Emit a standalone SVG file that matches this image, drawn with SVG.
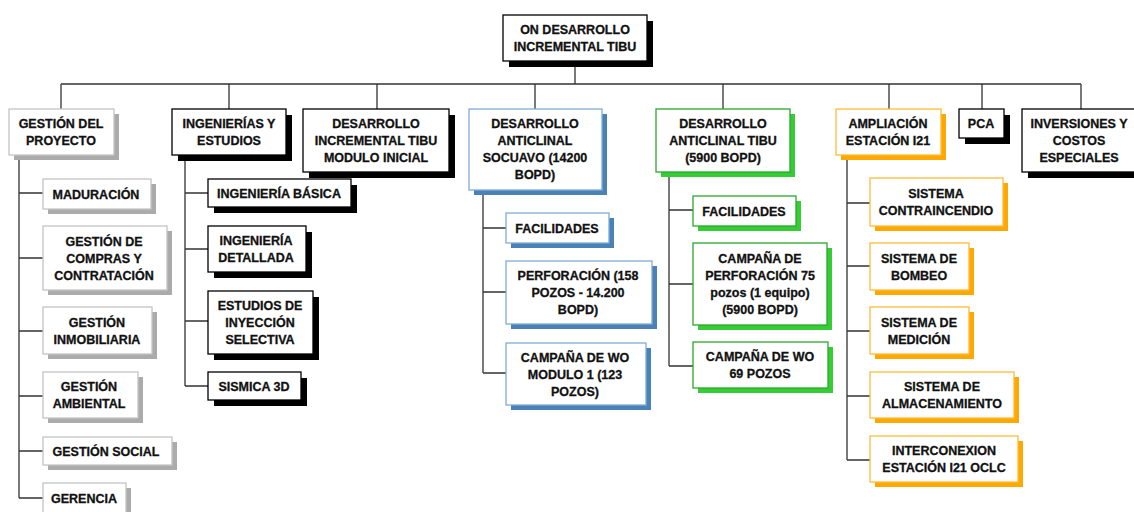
<svg xmlns="http://www.w3.org/2000/svg" width="1134" height="512" viewBox="0 0 1134 512">
<style>
.bg{fill:#ffffff}
.box{fill:#ffffff;stroke-width:1.3}
.k .box{stroke:#000000}.k .sh{fill:#000000}
.g .box{stroke:#c4c4c4}.g .sh{fill:#ababab}
.b .box{stroke:#7fabd8}.b .sh{fill:#4a82b8}
.gr .box{stroke:#2aa82a}.gr .sh{fill:#36cc36}
.o .box{stroke:#ffbb3a}.o .sh{fill:#ffa800}
text{font-family:"Liberation Sans",Arial,sans-serif;font-weight:bold;font-size:12.5px;fill:#111111;stroke:#111111;stroke-width:0.3;text-anchor:middle}
#connectors path{fill:none;stroke:#333333;stroke-width:1.3}
</style>
<rect class="bg" x="0" y="0" width="1134" height="512"/>
<g id="connectors">
<path d="M575 61V84M61 84H1081M61 84V109M229 84V109M377 84V109M535 84V109M723 84V109M889 84V109M982 84V109M1081 84V109"/>
<path d="M19 155V498M19 193H43M19 258H43M19 331H43M19 396H43M19 451H43M19 498H43"/>
<path d="M185 155V386M185 193H208M185 249H208M185 321H208M185 386H208"/>
<path d="M483 190V373M483 228H506M483 292H506M483 373H506"/>
<path d="M669 172V366M669 210H693M669 284H693M669 366H693"/>
<path d="M847 155V460M847 203H870M847 266H870M847 331H870M847 396H870M847 460H870"/>
</g>
<g id="root" class="k"><rect class="sh" x="509" y="21" width="144" height="46"/><rect class="box" x="503" y="15" width="144" height="46"/><text x="575" y="34">ON DESARROLLO</text><text x="575" y="51">INCREMENTAL TIBU</text></g>

<g id="gestion" class="g"><rect class="sh" x="14" y="114" width="105" height="46"/><rect class="box" x="9" y="109" width="105" height="46"/><text x="61" y="128">GESTIÓN DEL</text><text x="61" y="145">PROYECTO</text></g>
<g id="ingenierias" class="k"><rect class="sh" x="178" y="115" width="114" height="46"/><rect class="box" x="172" y="109" width="114" height="46"/><text x="229" y="128">INGENIERÍAS Y</text><text x="229" y="145">ESTUDIOS</text></g>
<g id="desinc" class="k"><rect class="sh" x="309" y="115" width="146" height="63"/><rect class="box" x="303" y="109" width="146" height="63"/><text x="376" y="128">DESARROLLO</text><text x="376" y="145">INCREMENTAL TIBU</text><text x="376" y="162">MODULO INICIAL</text></g>
<g id="socuavo" class="b"><rect class="sh" x="474" y="114" width="133" height="81"/><rect class="box" x="469" y="109" width="133" height="81"/><text x="535" y="128">DESARROLLO</text><text x="535" y="145">ANTICLINAL</text><text x="535" y="162">SOCUAVO (14200</text><text x="535" y="179">BOPD)</text></g>
<g id="anticlinal" class="gr"><rect class="sh" x="661" y="114" width="134" height="63"/><rect class="box" x="656" y="109" width="134" height="63"/><text x="723" y="128">DESARROLLO</text><text x="723" y="145">ANTICLINAL TIBU</text><text x="723" y="162">(5900 BOPD)</text></g>
<g id="ampliacion" class="o"><rect class="sh" x="841" y="114" width="105" height="46"/><rect class="box" x="836" y="109" width="105" height="46"/><text x="888" y="128">AMPLIACIÓN</text><text x="888" y="145">ESTACIÓN I21</text></g>
<g id="pca" class="k"><rect class="sh" x="965" y="115" width="45" height="29"/><rect class="box" x="959" y="109" width="45" height="29"/><text x="981" y="128">PCA</text></g>
<g id="inversiones" class="k"><rect class="sh" x="1028" y="115" width="115" height="63"/><rect class="box" x="1022" y="109" width="115" height="63"/><text x="1079" y="128">INVERSIONES Y</text><text x="1079" y="145">COSTOS</text><text x="1079" y="162">ESPECIALES</text></g>

<g id="maduracion" class="g"><rect class="sh" x="48" y="184" width="108" height="30"/><rect class="box" x="43" y="179" width="108" height="30"/><text x="96" y="198.5">MADURACIÓN</text></g>
<g id="compras" class="g"><rect class="sh" x="48" y="231" width="124" height="64"/><rect class="box" x="43" y="226" width="124" height="64"/><text x="104" y="245.5">GESTIÓN DE</text><text x="104" y="262.5">COMPRAS Y</text><text x="104" y="279.5">CONTRATACIÓN</text></g>
<g id="inmobiliaria" class="g"><rect class="sh" x="48" y="312" width="109" height="47"/><rect class="box" x="43" y="307" width="109" height="47"/><text x="97" y="326.5">GESTIÓN</text><text x="97" y="343.5">INMOBILIARIA</text></g>
<g id="ambiental" class="g"><rect class="sh" x="48" y="377" width="95" height="46"/><rect class="box" x="43" y="372" width="95" height="46"/><text x="89" y="391">GESTIÓN</text><text x="89" y="408">AMBIENTAL</text></g>
<g id="social" class="g"><rect class="sh" x="48" y="442" width="129" height="28"/><rect class="box" x="43" y="437" width="129" height="28"/><text x="106" y="455.5">GESTIÓN SOCIAL</text></g>
<g id="gerencia" class="g"><rect class="sh" x="48" y="488" width="83" height="30"/><rect class="box" x="43" y="483" width="83" height="30"/><text x="84" y="502.5">GERENCIA</text></g>

<g id="basica" class="k"><rect class="sh" x="214" y="185" width="143" height="28"/><rect class="box" x="208" y="179" width="143" height="28"/><text x="279" y="197.5">INGENIERÍA BÁSICA</text></g>
<g id="detallada" class="k"><rect class="sh" x="214" y="232" width="98" height="46"/><rect class="box" x="208" y="226" width="98" height="46"/><text x="256" y="245">INGENIERÍA</text><text x="256" y="262">DETALLADA</text></g>
<g id="inyeccion" class="k"><rect class="sh" x="214" y="297" width="105" height="63"/><rect class="box" x="208" y="291" width="105" height="63"/><text x="260" y="310">ESTUDIOS DE</text><text x="260" y="327">INYECCIÓN</text><text x="260" y="344">SELECTIVA</text></g>
<g id="sismica" class="k"><rect class="sh" x="214" y="378" width="93" height="28"/><rect class="box" x="208" y="372" width="93" height="28"/><text x="254" y="390.5">SISMICA 3D</text></g>

<g id="facil1" class="b"><rect class="sh" x="511" y="218" width="103" height="30"/><rect class="box" x="506" y="213" width="103" height="30"/><text x="557" y="232.5">FACILIDADES</text></g>
<g id="perforacion" class="b"><rect class="sh" x="511" y="266" width="146" height="63"/><rect class="box" x="506" y="261" width="146" height="63"/><text x="578" y="280">PERFORACIÓN (158</text><text x="578" y="297">POZOS - 14.200</text><text x="578" y="314">BOPD)</text></g>
<g id="wo1" class="b"><rect class="sh" x="511" y="348" width="140" height="62"/><rect class="box" x="506" y="343" width="140" height="62"/><text x="575" y="361.5">CAMPAÑA DE WO</text><text x="575" y="378.5">MODULO 1 (123</text><text x="575" y="395.5">POZOS)</text></g>

<g id="facil2" class="gr"><rect class="sh" x="698" y="201" width="103" height="30"/><rect class="box" x="693" y="196" width="103" height="30"/><text x="744" y="215.5">FACILIDADES</text></g>
<g id="campana75" class="gr"><rect class="sh" x="698" y="248" width="134" height="82"/><rect class="box" x="693" y="243" width="134" height="82"/><text x="760" y="262.5">CAMPAÑA DE</text><text x="760" y="279.5">PERFORACIÓN 75</text><text x="760" y="296.5">pozos (1 equipo)</text><text x="760" y="313.5">(5900 BOPD)</text></g>
<g id="wo69" class="gr"><rect class="sh" x="698" y="347" width="135" height="46"/><rect class="box" x="693" y="342" width="135" height="46"/><text x="760" y="361">CAMPAÑA DE WO</text><text x="760" y="378">69 POZOS</text></g>

<g id="contraincendio" class="o"><rect class="sh" x="875" y="183" width="133" height="48"/><rect class="box" x="870" y="178" width="133" height="48"/><text x="936" y="198">SISTEMA</text><text x="936" y="215">CONTRAINCENDIO</text></g>
<g id="bombeo" class="o"><rect class="sh" x="875" y="248" width="99" height="47"/><rect class="box" x="870" y="243" width="99" height="47"/><text x="919" y="262.5">SISTEMA DE</text><text x="919" y="279.5">BOMBEO</text></g>
<g id="medicion" class="o"><rect class="sh" x="875" y="312" width="99" height="47"/><rect class="box" x="870" y="307" width="99" height="47"/><text x="919" y="326.5">SISTEMA DE</text><text x="919" y="343.5">MEDICIÓN</text></g>
<g id="almacenamiento" class="o"><rect class="sh" x="875" y="377" width="144" height="46"/><rect class="box" x="870" y="372" width="144" height="46"/><text x="942" y="391">SISTEMA DE</text><text x="942" y="408">ALMACENAMIENTO</text></g>
<g id="interconexion" class="o"><rect class="sh" x="875" y="441" width="148" height="46"/><rect class="box" x="870" y="436" width="148" height="46"/><text x="944" y="455">INTERCONEXION</text><text x="944" y="472">ESTACIÓN I21 OCLC</text></g>
</svg>
